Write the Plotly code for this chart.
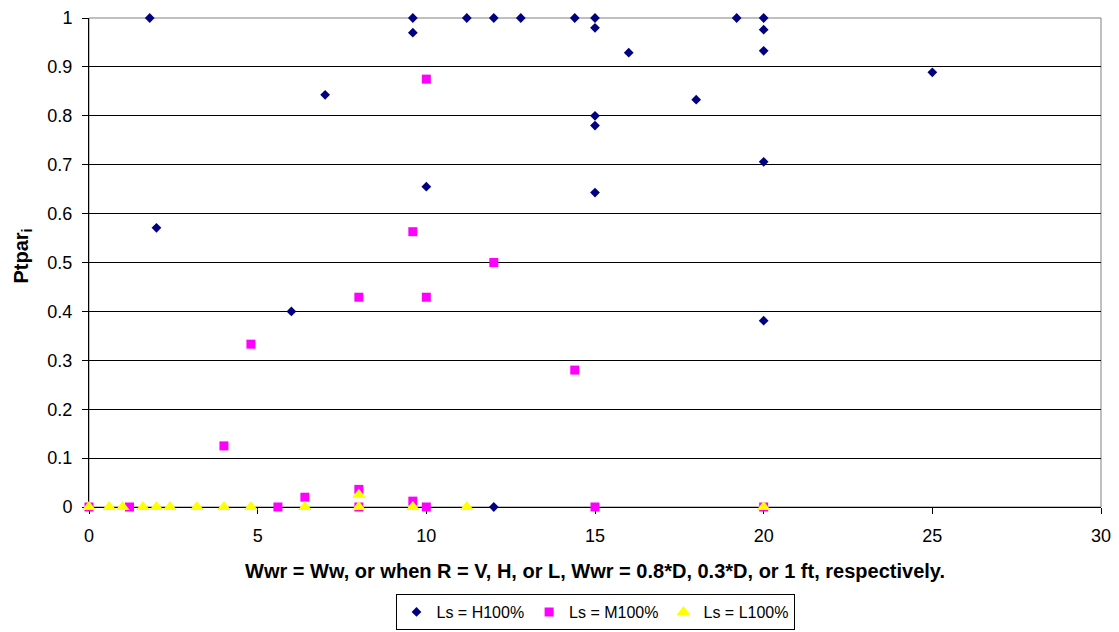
import plotly.graph_objects as go

# Ls = H100% (navy diamonds)
h_x = [1.8, 2, 6, 7, 9.6, 9.6, 10, 11.2, 12, 12.8, 14.4, 15, 15, 15, 15, 15,
       16, 18, 19.2, 20, 20, 20, 20, 20, 25, 12]
h_y = [1, 0.571, 0.4, 0.843, 1, 0.97, 0.655, 1, 1, 1, 1, 1, 0.98, 0.8, 0.78, 0.643,
       0.929, 0.833, 1, 1, 0.976, 0.933, 0.706, 0.381, 0.889, 0]

# Ls = M100% (magenta squares)
m_x = [0, 1.2, 4, 4.8, 5.6, 6.4, 8, 8, 8, 9.6, 9.6, 10, 10, 10, 12, 14.4, 15, 20]
m_y = [0, 0, 0.125, 0.333, 0, 0.02, 0.429, 0.036, 0, 0.563, 0.012, 0.875, 0.429, 0,
       0.5, 0.28, 0, 0]

# Ls = L100% (yellow triangles)
l_x = [0, 0.6, 1.0, 1.6, 2.0, 2.4, 3.2, 4.0, 4.8, 6.4, 8, 8, 9.6, 11.2, 20]
l_y = [0, 0, 0, 0, 0, 0, 0, 0, 0, 0, 0.025, 0, 0, 0, 0]

x_ticks = [0, 5, 10, 15, 20, 25, 30]
y_ticks = [0, 0.1, 0.2, 0.3, 0.4, 0.5, 0.6, 0.7, 0.8, 0.9, 1]
y_tick_labels = ["0", "0.1", "0.2", "0.3", "0.4", "0.5", "0.6", "0.7", "0.8", "0.9", "1"]

x_title = "Wwr = Ww, or when R = V, H, or L, Wwr = 0.8*D, 0.3*D, or 1 ft, respectively."
y_title = "Ptpar<sub>i</sub>"

font_family = "Liberation Sans, Arial, sans-serif"

fig = go.Figure()
fig.add_trace(go.Scatter(x=h_x, y=h_y, mode="markers", name="Ls = H100%",
                         marker=dict(symbol="diamond", size=7.5, color="#000080"),
                         cliponaxis=False))
fig.add_trace(go.Scatter(x=m_x, y=m_y, mode="markers", name="Ls = M100%",
                         marker=dict(symbol="square", size=9, color="#FF00FF"),
                         cliponaxis=False))
fig.add_trace(go.Scatter(x=l_x, y=l_y, mode="markers", name="Ls = L100%",
                         marker=dict(symbol="triangle-up", size=12, color="#FFFF00"),
                         cliponaxis=False))

fig.add_shape(type="rect", xref="paper", yref="paper", x0=0, y0=0, x1=1, y1=1,
              line=dict(color="#808080", width=1), layer="below")

# axis titles placed as annotations for exact placement
fig.add_annotation(text="<b>" + x_title + "</b>", xref="paper", yref="paper",
                   x=0.5, y=-(571 - 507) / 489, xanchor="center", yanchor="middle",
                   showarrow=False, font=dict(size=20, family=font_family, color="black"))
fig.add_annotation(text="<b>" + y_title + "</b>", xref="paper", yref="paper",
                   x=-(89 - 22) / 1012, y=0.5 + (263 - 257) / 489, xanchor="center",
                   yanchor="middle", textangle=-90, showarrow=False,
                   font=dict(size=20, family=font_family, color="black"))

fig.update_layout(
    width=1119, height=632,
    margin=dict(l=89, r=18, t=18, b=125, autoexpand=False),
    paper_bgcolor="white", plot_bgcolor="white",
    font=dict(family=font_family, size=18, color="black"),
    showlegend=True,
    legend=dict(orientation="h", x=0.5, xanchor="center",
                yref="container", y=1 - 594 / 632, yanchor="top",
                bordercolor="black", borderwidth=1, bgcolor="white",
                font=dict(size=16), itemwidth=30, tracegroupgap=0),
    xaxis=dict(range=[0, 30], tickvals=x_ticks, ticks="outside", ticklen=6,
               tickcolor="black", showline=True, linecolor="black", linewidth=1,
               showgrid=False, zeroline=False, tickfont=dict(size=18),
               ticklabelstandoff=6, layer="below traces", automargin=False),
    yaxis=dict(range=[0, 1], tickvals=y_ticks, ticktext=y_tick_labels, ticks="outside",
               ticklen=6, tickcolor="black", showline=True, linecolor="black", linewidth=1,
               showgrid=True, gridcolor="#000000", gridwidth=1, zeroline=False,
               tickfont=dict(size=18), ticklabelstandoff=6, layer="below traces",
               automargin=False),
)

fig.write_html("out.html")
